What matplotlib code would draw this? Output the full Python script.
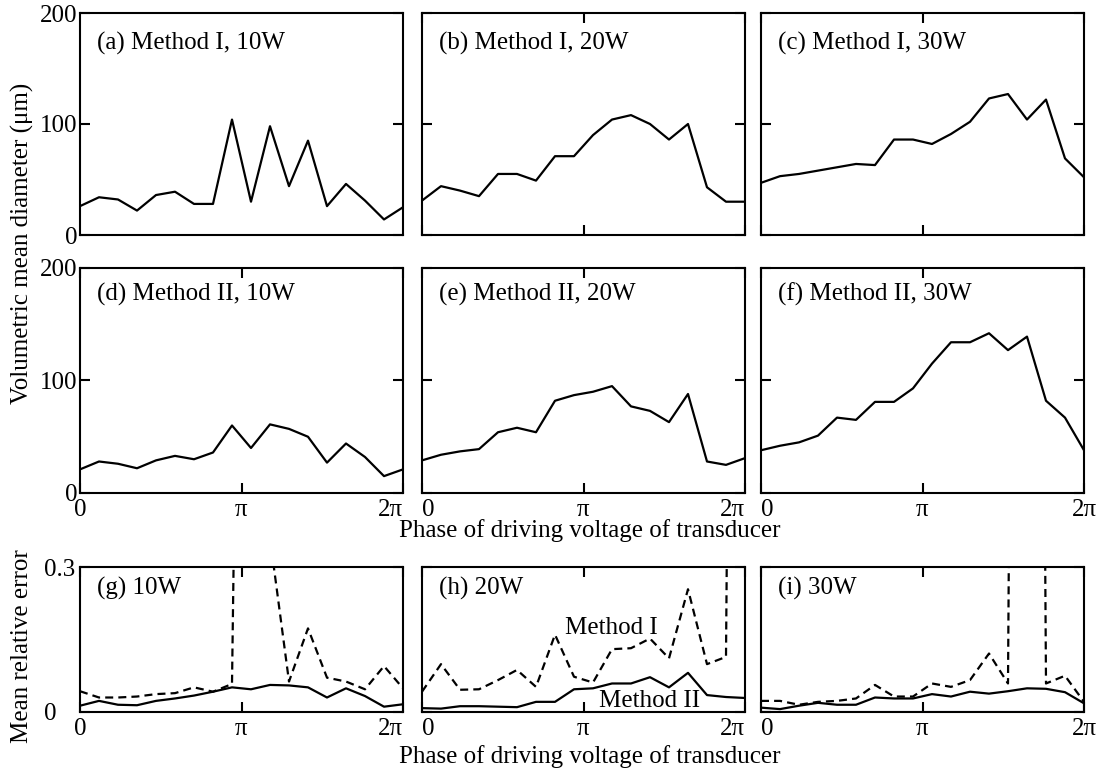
import numpy as np
import matplotlib
matplotlib.use("Agg")
import matplotlib.pyplot as plt

plt.rcParams['font.family'] = ['Liberation Serif', 'DejaVu Serif']

# phase samples, 0 .. 2pi (18 points)
phase = np.linspace(0, 2 * np.pi, 18)

# volumetric mean diameter (um), Method I
m1_10w = [26, 34, 32, 22, 36, 39, 28, 28, 104, 30, 98, 44, 85, 26, 46, 31, 14, 25]
m1_20w = [31, 44, 40, 35, 55, 55, 49, 71, 71, 90, 104, 108, 100, 86, 100, 43, 30, 30]
m1_30w = [47, 53, 55, 58, 61, 64, 63, 86, 86, 82, 91, 102, 123, 127, 104, 122, 69, 52]

# volumetric mean diameter (um), Method II
m2_10w = [21, 28, 26, 22, 29, 33, 30, 36, 60, 40, 61, 57, 50, 27, 44, 32, 15, 21]
m2_20w = [29, 34, 37, 39, 54, 58, 54, 82, 87, 90, 95, 77, 73, 63, 88, 28, 25, 31]
m2_30w = [38, 42, 45, 51, 67, 65, 81, 81, 93, 115, 134, 134, 142, 127, 139, 82, 67, 38]

# mean relative error, Method I (dashed) and Method II (solid)
err1_10w = [0.043, 0.030, 0.030, 0.032, 0.037, 0.039, 0.051, 0.042, 0.058, 3.0, 0.36,
            0.063, 0.173, 0.071, 0.063, 0.047, 0.095, 0.049]
err2_10w = [0.013, 0.023, 0.015, 0.014, 0.023, 0.028, 0.034, 0.042, 0.051, 0.047, 0.056,
            0.055, 0.051, 0.030, 0.049, 0.033, 0.011, 0.016]
err1_20w = [0.042, 0.099, 0.046, 0.047, 0.066, 0.087, 0.052, 0.160, 0.073, 0.061, 0.130,
            0.132, 0.152, 0.111, 0.254, 0.099, 0.114, 5.0]
err2_20w = [0.008, 0.007, 0.012, 0.012, 0.011, 0.010, 0.021, 0.021, 0.047, 0.049, 0.059,
            0.059, 0.072, 0.051, 0.081, 0.035, 0.031, 0.029]
err1_30w = [0.023, 0.023, 0.015, 0.021, 0.023, 0.028, 0.056, 0.032, 0.032, 0.059, 0.052,
            0.066, 0.121, 0.059, 6.0, 0.059, 0.075, 0.021]
err2_30w = [0.009, 0.006, 0.013, 0.019, 0.015, 0.015, 0.030, 0.028, 0.028, 0.037, 0.032,
            0.042, 0.038, 0.043, 0.049, 0.048, 0.041, 0.018]

top_labels = ["(a) Method I, 10W", "(b) Method I, 20W", "(c) Method I, 30W"]
mid_labels = ["(d) Method II, 10W", "(e) Method II, 20W", "(f) Method II, 30W"]
bot_labels = ["(g) 10W", "(h) 20W", "(i) 30W"]
xtick_labels = ["0", "π", "2π"]

W, H = 1101, 771
fig = plt.figure(figsize=(W / 100, H / 100), dpi=100)

col_x = [(80, 403), (422, 745), (761, 1084)]
row_y = [(13, 235), (268, 493), (567, 712)]

def make_ax(c, r):
    x0, x1 = col_x[c]
    y0, y1 = row_y[r]
    return fig.add_axes([x0 / W, 1 - y1 / H, (x1 - x0) / W, (y1 - y0) / H])

FS = 18
LW = 1.6

def style(ax, c, r, ymax, yticks, ylabels):
    ax.set_xlim(0, 2 * np.pi)
    ax.set_ylim(0, ymax)
    ax.set_xticks([0, np.pi, 2 * np.pi])
    ax.set_yticks(yticks)
    for s in ax.spines.values():
        s.set_linewidth(1.5)
    ax.tick_params(direction='in', length=7, width=1.5, top=True, right=True,
                   labelsize=FS)
    ax.tick_params(axis='x', pad=4)
    if r == 0:
        ax.set_xticklabels([])
    else:
        ax.set_xticklabels(xtick_labels)
        lbls = ax.get_xticklabels()
        # neighbouring panels: keep "2π" and "0" apart
        if c > 0:
            lbls[0].set_ha('left')
        if c < 2:
            lbls[2].set_ha('right')
    if c == 0:
        if r == 2:
            # labels on the error panels are left aligned
            ax.set_yticklabels(ylabels, ha='left')
            ax.tick_params(axis='y', pad=26)
        else:
            ax.set_yticklabels(ylabels)
            ax.tick_params(axis='y', pad=2)
    else:
        ax.set_yticklabels([])

def panel_text(ax, txt, dy):
    ax.annotate(txt, xy=(0, 1), xycoords='axes fraction', xytext=(17, -dy),
                textcoords='offset pixels', ha='left', va='center', fontsize=FS)

top = [m1_10w, m1_20w, m1_30w]
mid = [m2_10w, m2_20w, m2_30w]
err1 = [err1_10w, err1_20w, err1_30w]
err2 = [err2_10w, err2_20w, err2_30w]

for c in range(3):
    ax = make_ax(c, 0)
    ax.plot(phase, top[c], color='black', lw=LW)
    style(ax, c, 0, 200, [0, 100, 200], ["0", "100", "200"])
    if c == 0:
        ax.tick_params(axis='x', length=0)
    panel_text(ax, top_labels[c], 30)

    ax = make_ax(c, 1)
    ax.plot(phase, mid[c], color='black', lw=LW)
    style(ax, c, 1, 200, [0, 100, 200], ["0", "100", "200"])
    panel_text(ax, mid_labels[c], 26)

    ax = make_ax(c, 2)
    if c == 2:
        ax.axhline(0, color='#1f3a7a', lw=1.5, zorder=1)
    ax.plot(phase, err1[c], color='black', lw=LW, dashes=(3.6, 2.3))
    ax.plot(phase, err2[c], color='black', lw=LW)
    style(ax, c, 2, 0.3, [0, 0.3], ["0", "0.3"])
    panel_text(ax, bot_labels[c], 21)
    if c == 1:
        ax.text(611 / W, 1 - 628 / H, "Method I", transform=fig.transFigure,
                ha='center', va='center', fontsize=FS,
                bbox=dict(facecolor='white', edgecolor='none', pad=0))
        ax.text(650 / W, 1 - 701 / H, "Method II", transform=fig.transFigure,
                ha='center', va='center', fontsize=FS)

fig.text(22 / W, 1 - 243 / H, "Volumetric mean diameter (μm)", rotation=90,
         ha='center', va='center', fontsize=FS)
fig.text(22 / W, 1 - 646 / H, "Mean relative error", rotation=90,
         ha='center', va='center', fontsize=FS)
fig.text(590 / W, 1 - 531 / H, "Phase of driving voltage of transducer",
         ha='center', va='center', fontsize=FS)
fig.text(590 / W, 1 - 757 / H, "Phase of driving voltage of transducer",
         ha='center', va='center', fontsize=FS)

fig.savefig("out.png", dpi=100)
